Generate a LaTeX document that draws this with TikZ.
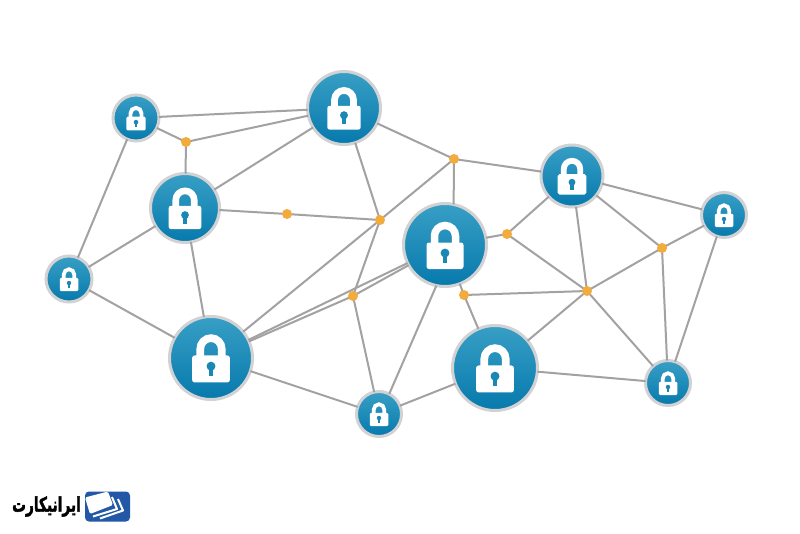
\documentclass[tikz,border=0pt]{standalone}
\usepackage{fontspec}
\usepackage{graphicx}
\TeXXeTstate=1
\newfontfamily\arabicfont[Script=Arabic,FakeBold=2.2]{DejaVu Sans Bold}
\definecolor{linegray}{HTML}{A3A1A2}
\definecolor{ringgray}{HTML}{D2D2D4}
\definecolor{hubtop}{HTML}{389FC5}
\definecolor{hubbot}{HTML}{0679AC}
\definecolor{holeblue}{HTML}{1B87B4}
\definecolor{junc}{HTML}{F2AC3C}
\definecolor{logoblue}{HTML}{2258A6}
\tikzset{
  hub/.style={circle,draw=ringgray,line width=3pt,top color=hubtop,bottom color=hubbot,inner sep=0pt,outer sep=0pt},
  juncdot/.style={circle,fill=junc,minimum size=10pt,inner sep=0pt,outer sep=0pt},
  link/.style={draw=linegray,line width=2pt}
}
\newcommand{\lockicon}[2]{%
  \begin{scope}[shift={(#1)},scale=#2]
    \draw[white,line width=7.5pt*#2] (-10.5,0) -- (-10.5,-9) arc[start angle=180,delta angle=180,radius=10.5] -- (10.5,0);
    \fill[white,rounded corners=2.5pt*#2] (-18.5,-2.5) rectangle (18.5,24);
    \fill[holeblue] (0,8) circle[radius=4.4];
    \fill[holeblue] (-2,8) rectangle (2,18);
  \end{scope}}
\begin{document}
\begin{tikzpicture}[x=1pt,y=-1pt]
\useasboundingbox (0,0) rectangle (800,533);
\fill[white] (0,0) rectangle (800,533);
\foreach \n/\x/\y in {j1/186/142,j2/287/214,j3/380/220,j4/454/159,j5/353/296,j6/507/234,j7/464/295,j8/587/291,j9/662/248}
  \coordinate (\n) at (\x,\y);
\foreach \n/\x/\y/\r in {A/136/118/23,B/344/108/36.5,C/185/208/34.5,D/69/279/23,E/211/358/41.5,F/379/414/22.5,G/445/245/41.5,H/495/368/42.5,I/572/176/31,J/724/215/22.5,K/668/383/22.5}
  \node[hub,minimum size=2*\r pt] (\n) at (\x,\y) {};
\foreach \a/\b in {A/B,A/j1,j1/B,j1/C,A/D,C/B,C/j2,j2/j3,C/D,C/E,D/E,E/F,E/j3,j3/j4,E/G,E/j5,j5/G,B/j3,B/j4,j4/I,j4/G.78,j3/j5,j5/F,G.258/F.63,F/H,G/j6,j6/I,j6/j8,G/j7,j7/H,j7/j8,I/j8,I/J,I/j9,j8/H,j8/j9,j8/K,j9/J,j9/K,J/K,H/K}
  \draw[link] (\a) -- (\b);
\foreach \n in {j1,j2,j3,j4,j5,j6,j7,j8,j9}
  \node[juncdot] (dot\n) at (\n) {};
\foreach \n/\s in {A/0.52,B/0.9,C/0.88,D/0.5,E/1.02,F/0.5,G/1,H/1.02,I/0.78,J/0.5,K/0.5}
  \lockicon{\n}{\s};
\node[fill=logoblue,rounded corners=4pt,minimum width=45pt,minimum height=30pt,inner sep=0pt] (logo) at (107.5,506.5) {};
\fill[white,rounded corners=1.5pt] (85,497.5) -- (108,491.5) -- (113,505) -- (90,514) -- cycle;
\draw[white,line width=2pt,line join=round] (112,497) -- (117,509) -- (93,516.5);
\draw[white,line width=2pt,line join=round] (118,499) -- (123,510.5) -- (100,518.5);
\node[inner sep=0pt] (brand) at (46.5,506.5) {\scalebox{0.98}[1.45]{\arabicfont\fontsize{14}{14}\selectfont\beginR ایرانیکارت\endR}};
\end{tikzpicture}
\end{document}
